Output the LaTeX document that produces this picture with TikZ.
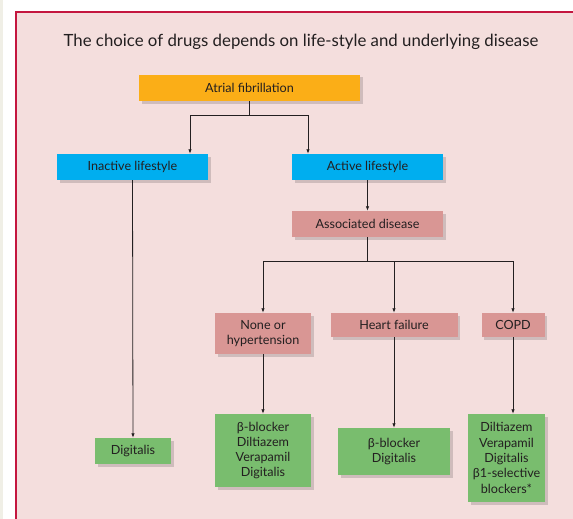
\documentclass[tikz,border=0pt]{standalone}
\usepackage{fontspec}
\setmainfont{Lato}
\usetikzlibrary{arrows.meta, shadows}
\definecolor{panelpink}{HTML}{F4DEDD}
\definecolor{rimred}{HTML}{C4163F}
\definecolor{stripcream}{HTML}{F0EFE6}
\definecolor{afgold}{HTML}{FBAE17}
\definecolor{lifecyan}{HTML}{00AEEF}
\definecolor{disrose}{HTML}{D99694}
\definecolor{drugreen}{HTML}{79BD6E}
\definecolor{inkdark}{HTML}{231F20}

\begin{document}
\begin{tikzpicture}[
  x=1pt, y=-1pt,
  >={Latex[length=4.5pt, width=3.5pt]},
  every node/.style={text=inkdark, font=\fontsize{12.6}{15.3}\selectfont},
  box/.style={inner sep=2pt, align=center, minimum height=26pt,
    drop shadow={shadow xshift=2.5pt, shadow yshift=-2.5pt, fill=black, opacity=.15}},
  link/.style={draw=inkdark, line width=0.8pt},
]

% Page and panel
\useasboundingbox (0,0) rectangle (573,519);
\clip (0,0) rectangle (573,519);
\fill[white] (0,0) rectangle (573,519);
\fill[stripcream] (0,0) rectangle (3,519);
\fill[panelpink] (16,12) rectangle (580,530);
\draw[rimred, line width=1.5pt] (16,530) -- (16,12) -- (580,12);

% Title
\node[font=\fontsize{16.8}{20}\selectfont] (title) at (301,42)
  {The choice of drugs depends on life-style and underlying disease};

% Top level
\node[box, fill=afgold, minimum width=221pt] (af) at (249.5,88) {Atrial fibrillation};

% Lifestyle
\node[box, fill=lifecyan, minimum width=151pt] (inact) at (132.5,167) {Inactive lifestyle};
\node[box, fill=lifecyan, minimum width=151pt] (act) at (367.5,167) {Active lifestyle};

% Associated disease
\node[box, fill=disrose, minimum width=151pt] (assoc) at (367.5,224) {Associated disease};
\node[box, fill=disrose, minimum width=96pt, minimum height=41pt] (none) at (263,333.5) {None or\\hypertension};
\node[box, fill=disrose, minimum width=127pt, minimum height=24pt] (hf) at (394,325) {Heart failure};
\node[box, fill=disrose, minimum width=63pt, minimum height=24pt] (copd) at (513,325) {COPD};

% Drugs
\node[box, fill=drugreen, minimum width=76pt] (dig) at (133,451) {Digitalis};
\node[box, fill=drugreen, minimum width=96pt, minimum height=73pt] (drnone) at (263,450.5)
  {β-blocker\\Diltiazem\\Verapamil\\Digitalis};
\node[box, fill=drugreen, minimum width=112pt, minimum height=47pt] (drhf) at (394,451.5)
  {β-blocker\\Digitalis};
\node[box, fill=drugreen, minimum width=77pt, minimum height=88pt] (drcopd) at (506.5,458)
  {Diltiazem\\Verapamil\\Digitalis\\β1-selective\\blockers*};

% Connectors
\coordinate (split1) at (249.5,115);
\coordinate (split2) at (367.5,261);
\draw[link] (af.south) -- (split1);
\draw[link, ->] (split1) -| ([xshift=57.5pt]inact.north);
\draw[link, ->] (split1) -| ([xshift=-59.5pt]act.north);
\draw[link, ->] (inact.south) -- (dig.north);
\draw[link, ->] (act.south) -- (assoc.north);
\draw[link] (assoc.south) -- (split2);
\draw[link, ->] (split2) -| (none.north);
\draw[link, ->] (split2) -| (hf.north);
\draw[link, ->] (split2) -| (copd.north);
\draw[link, ->] (none.south) -- (drnone.north);
\draw[link, ->] (hf.south) -- (drhf.north);
\draw[link, ->] (copd.south) -- (copd.south |- drcopd.north);

\end{tikzpicture}
\end{document}
